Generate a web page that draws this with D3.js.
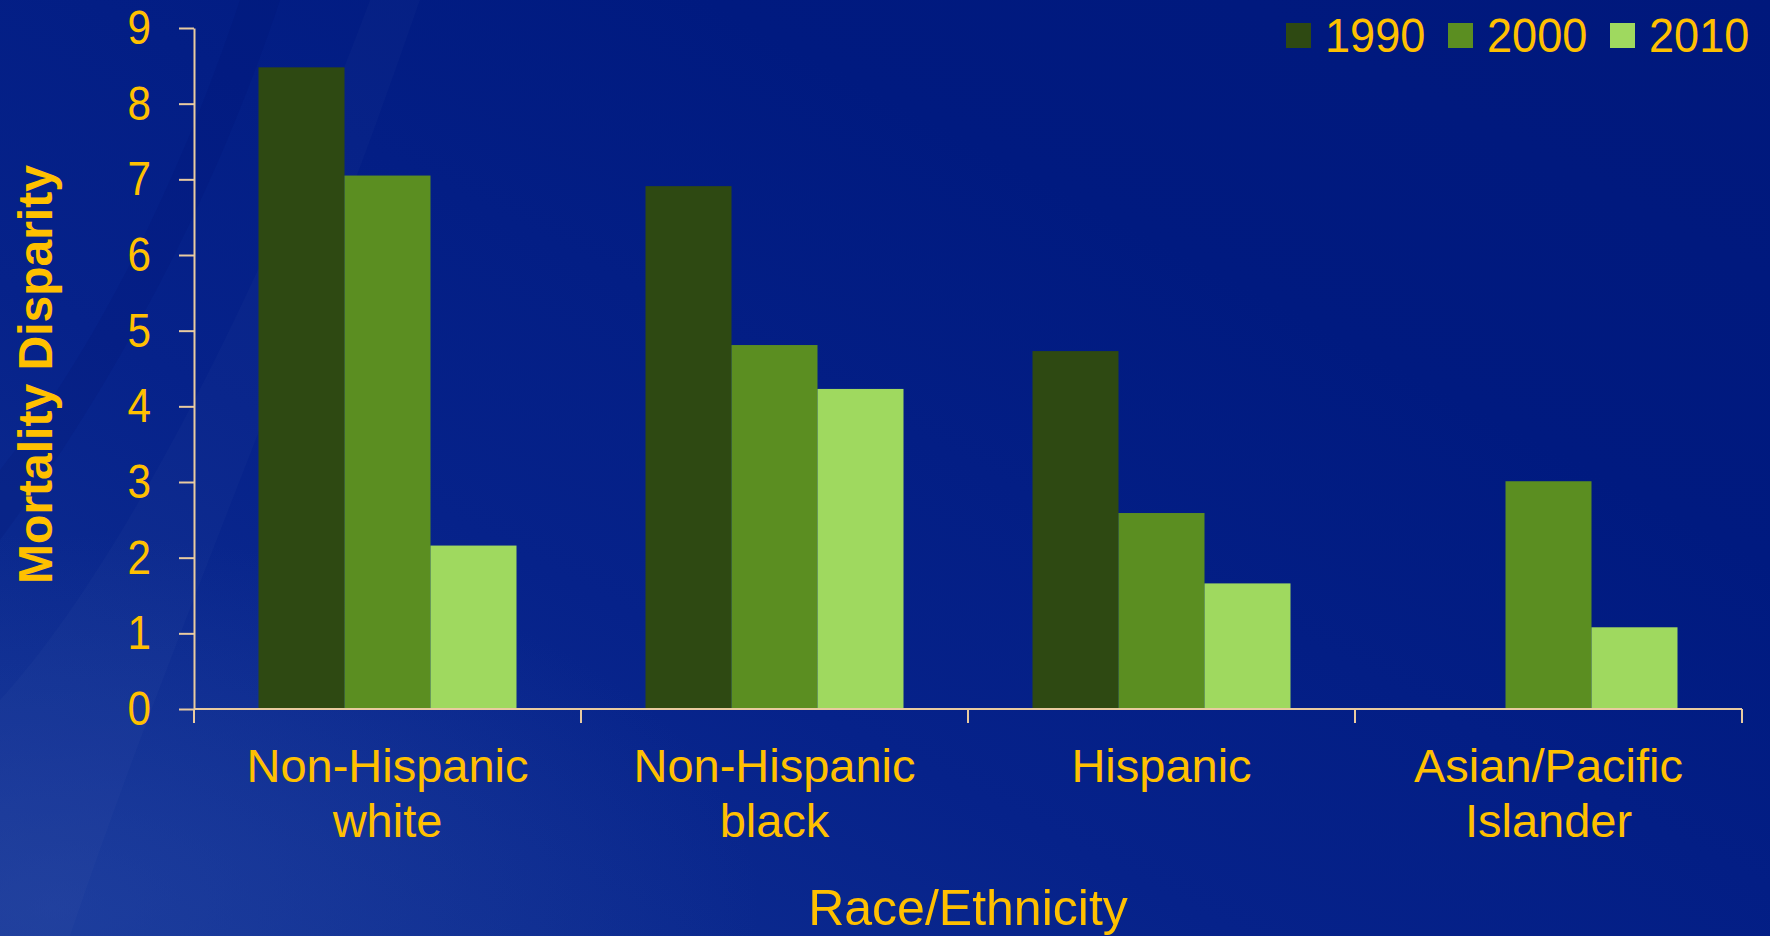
<!DOCTYPE html>
<html>
<head>
<meta charset="utf-8">
<script src="https://cdn.jsdelivr.net/npm/d3@7"></script>
<style>
  html, body { margin: 0; padding: 0; background: #001a80; }
  svg { display: block; }
  text { font-family: "Liberation Sans", Arial, sans-serif; }
</style>
</head>
<body>
<svg id="chart" width="1770" height="936"></svg>
<script>
// Mortality disparity by race/ethnicity, three survey years
const categories = [
  ["Non-Hispanic", "white"],
  ["Non-Hispanic", "black"],
  ["Hispanic"],
  ["Asian/Pacific", "Islander"]
];
const years = ["1990", "2000", "2010"];
const values1990 = [8.48, 6.91, 4.73, null];
const values2000 = [7.05, 4.81, 2.59, 3.01];
const values2010 = [2.16, 4.23, 1.66, 1.08];
const yTicks = [0, 1, 2, 3, 4, 5, 6, 7, 8, 9];
const yTitle = "Mortality Disparity";
const xTitle = "Race/Ethnicity";

const seriesValues = [values1990, values2000, values2010];
const colors = ["#2e4912", "#5b8e21", "#9fd95f"];
const textColor = "#ffc000";
const axisColor = "#e9cba0";

const W = 1770, H = 936;
const plot = { left: 194, right: 1742, top: 28, bottom: 709 };

const svg = d3.select("#chart");

// ---- background ----
const defs = svg.append("defs");
const bg = defs.append("linearGradient").attr("id", "bg")
  .attr("x1", "0").attr("y1", "1").attr("x2", "1").attr("y2", "0");
bg.append("stop").attr("offset", "0").attr("stop-color", "#113293");
bg.append("stop").attr("offset", "0.35").attr("stop-color", "#06228a");
bg.append("stop").attr("offset", "0.7").attr("stop-color", "#001a80");
bg.append("stop").attr("offset", "1").attr("stop-color", "#00187c");
svg.append("rect").attr("width", W).attr("height", H).attr("fill", "url(#bg)");

const glow = defs.append("radialGradient").attr("id", "glow")
  .attr("cx", "0.03").attr("cy", "0.97").attr("r", "0.4");
glow.append("stop").attr("offset", "0").attr("stop-color", "#2a4aa8").attr("stop-opacity", 0.5);
glow.append("stop").attr("offset", "1").attr("stop-color", "#2a4aa8").attr("stop-opacity", 0);
svg.append("rect").attr("width", W).attr("height", H).attr("fill", "url(#glow)");

// faint diagonal sweeps
svg.append("path")
  .attr("d", "M0,936 L0,700 C110,580 250,320 370,0 L420,0 C310,320 170,640 70,936 Z")
  .attr("fill", "#ffffff").attr("opacity", 0.02);
svg.append("path")
  .attr("d", "M0,470 C80,370 170,210 240,0 L280,0 C210,210 110,390 0,540 Z")
  .attr("fill", "#000a60").attr("opacity", 0.1);

// ---- scales ----
const x0 = d3.scaleBand()
  .domain(d3.range(categories.length))
  .range([plot.left, plot.right])
  .paddingInner(0).paddingOuter(0);

const x1 = d3.scaleBand()
  .domain(years)
  .range([0, x0.bandwidth()])
  .paddingInner(0).paddingOuter(0.75);

const y = d3.scaleLinear()
  .domain([0, 9])
  .range([plot.bottom, plot.top]);

// ---- bars ----
const barData = [];
categories.forEach((c, i) => {
  years.forEach((yr, j) => {
    const v = seriesValues[j][i];
    if (v != null) barData.push({ cat: i, year: yr, value: v, color: colors[j] });
  });
});

svg.append("g").selectAll("rect")
  .data(barData)
  .join("rect")
  .attr("x", d => x0(d.cat) + x1(d.year))
  .attr("y", d => y(d.value))
  .attr("width", x1.bandwidth())
  .attr("height", d => y(0) - y(d.value))
  .attr("fill", d => d.color);

// ---- y axis ----
const tickSqueeze = 0.88;
const yAxis = svg.append("g")
  .attr("transform", `translate(${plot.left},0)`)
  .call(d3.axisLeft(y).tickValues(yTicks).tickSize(15).tickSizeOuter(0).tickPadding(28));
yAxis.select(".domain").attr("stroke", axisColor).attr("stroke-width", 2);
yAxis.selectAll(".tick line").attr("stroke", axisColor).attr("stroke-width", 2);
yAxis.selectAll(".tick text")
  .attr("fill", textColor)
  .attr("font-size", 48)
  .attr("font-family", "'Liberation Sans', Arial, sans-serif")
  .attr("x", -43 / tickSqueeze)
  .attr("transform", `scale(${tickSqueeze},1)`);

// ---- x axis ----
const xAxis = svg.append("g");
xAxis.append("line")
  .attr("x1", plot.left).attr("x2", plot.right)
  .attr("y1", y(0)).attr("y2", y(0))
  .attr("stroke", axisColor).attr("stroke-width", 2);

const boundaries = d3.range(categories.length).map(i => x0(i)).concat([x0.range()[1]]);
xAxis.selectAll("line.bound")
  .data(boundaries)
  .join("line")
  .attr("class", "bound")
  .attr("x1", d => d).attr("x2", d => d)
  .attr("y1", y(0)).attr("y2", y(0) + 14)
  .attr("stroke", axisColor).attr("stroke-width", 2);

const catLabels = xAxis.selectAll("text.cat")
  .data(categories)
  .join("text")
  .attr("class", "cat")
  .attr("text-anchor", "middle")
  .attr("fill", textColor)
  .attr("font-size", 47)
  .attr("transform", (d, i) => `translate(${x0(i) + x0.bandwidth() / 2},${y(0) + 73})`);
catLabels.selectAll("tspan")
  .data(d => d)
  .join("tspan")
  .attr("x", 0)
  .attr("dy", (d, k) => k === 0 ? 0 : 55)
  .text(d => d);

// ---- axis titles ----
svg.append("text")
  .attr("text-anchor", "middle")
  .attr("fill", textColor)
  .attr("font-size", 48)
  .attr("font-weight", "bold")
  .attr("transform", `translate(52,${(plot.top + plot.bottom) / 2 + 6}) rotate(-90)`)
  .text(yTitle);

svg.append("text")
  .attr("text-anchor", "middle")
  .attr("fill", textColor)
  .attr("font-size", 50)
  .attr("x", (plot.left + plot.right) / 2)
  .attr("y", 925)
  .text(xTitle);

// ---- legend ----
const legend = svg.append("g").attr("transform", "translate(1286,23)");
const items = legend.selectAll("g")
  .data(years)
  .join("g")
  .attr("transform", (d, i) => `translate(${i * 162},0)`);
items.append("rect")
  .attr("width", 25).attr("height", 25)
  .attr("fill", (d, i) => colors[i]);
items.append("text")
  .attr("transform", "translate(39,29) scale(0.94,1)")
  .attr("fill", textColor)
  .attr("font-size", 48)
  .text(d => d);
</script>
</body>
</html>
